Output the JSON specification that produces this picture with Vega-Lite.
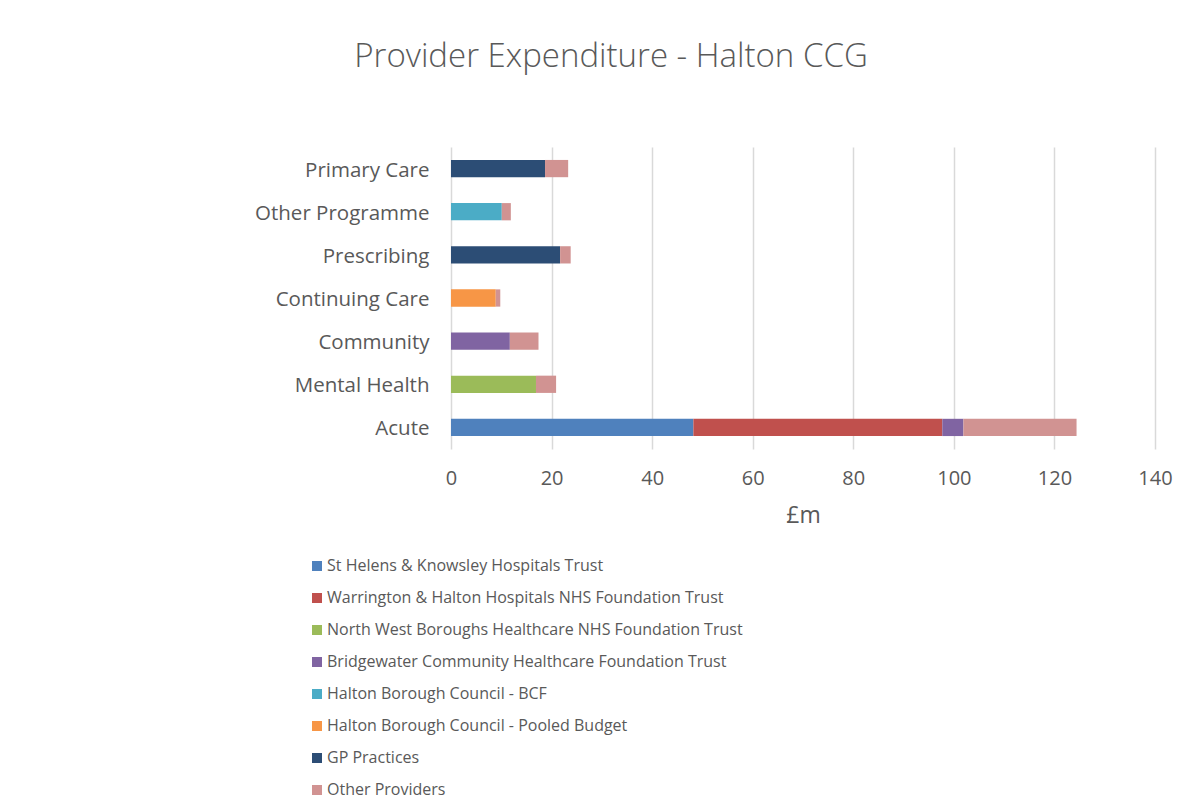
{
  "$schema": "https://vega.github.io/schema/vega-lite/v6.json",
  "width": 704,
  "height": 302,
  "autosize": {"type": "none"},
  "padding": {"left": 451, "top": 147, "right": 48, "bottom": 351},
  "background": "white",
  "title": {
    "text": "Provider Expenditure - Halton CCG",
    "fontSize": 33,
    "font": "Open Sans",
    "fontWeight": 300,
    "color": "#595959",
    "anchor": "middle",
    "dx": -192,
    "offset": 73
  },
  "data": {
    "values": [
      {"category": "Primary Care", "provider": "GP Practices", "k": 7, "value": 18.7},
      {"category": "Primary Care", "provider": "Other Providers", "k": 8, "value": 4.6},
      {"category": "Other Programme", "provider": "Halton Borough Council - BCF", "k": 5, "value": 10.1},
      {"category": "Other Programme", "provider": "Other Providers", "k": 8, "value": 1.8},
      {"category": "Prescribing", "provider": "GP Practices", "k": 7, "value": 21.7},
      {"category": "Prescribing", "provider": "Other Providers", "k": 8, "value": 2.1},
      {"category": "Continuing Care", "provider": "Halton Borough Council - Pooled Budget", "k": 6, "value": 8.9},
      {"category": "Continuing Care", "provider": "Other Providers", "k": 8, "value": 0.9},
      {"category": "Community", "provider": "Bridgewater Community Healthcare Foundation Trust", "k": 4, "value": 11.7},
      {"category": "Community", "provider": "Other Providers", "k": 8, "value": 5.7},
      {"category": "Mental Health", "provider": "North West Boroughs Healthcare NHS Foundation Trust", "k": 3, "value": 16.9},
      {"category": "Mental Health", "provider": "Other Providers", "k": 8, "value": 4.0},
      {"category": "Acute", "provider": "St Helens & Knowsley Hospitals Trust", "k": 1, "value": 48.2},
      {"category": "Acute", "provider": "Warrington & Halton Hospitals NHS Foundation Trust", "k": 2, "value": 49.5},
      {"category": "Acute", "provider": "Bridgewater Community Healthcare Foundation Trust", "k": 4, "value": 4.2},
      {"category": "Acute", "provider": "Other Providers", "k": 8, "value": 22.5}
    ]
  },
  "mark": {"type": "bar"},
  "encoding": {
    "y": {
      "field": "category",
      "type": "nominal",
      "sort": ["Primary Care", "Other Programme", "Prescribing", "Continuing Care", "Community", "Mental Health", "Acute"],
      "scale": {"paddingInner": 0.6, "paddingOuter": 0.3},
      "axis": {
        "title": null,
        "domain": false,
        "ticks": false,
        "labelFontSize": 20.5,
        "labelFont": "Open Sans",
        "labelColor": "#595959",
        "labelPadding": 22,
        "labelOffset": 2
      }
    },
    "x": {
      "field": "value",
      "type": "quantitative",
      "stack": "zero",
      "scale": {"domain": [0, 140], "nice": false},
      "axis": {
        "title": "£m",
        "values": [0, 20, 40, 60, 80, 100, 120, 140],
        "domain": false,
        "ticks": false,
        "grid": true,
        "gridColor": "#D9D9D9",
        "gridWidth": 1.5,
        "labelFlush": false,
        "labelFontSize": 20,
        "labelFont": "Open Sans",
        "labelColor": "#595959",
        "labelPadding": 19,
        "titleFontSize": 23,
        "titleFont": "Open Sans",
        "titleFontWeight": "normal",
        "titleColor": "#595959",
        "titlePadding": 16
      }
    },
    "order": {"field": "k", "type": "quantitative"},
    "color": {
      "field": "provider",
      "type": "nominal",
      "scale": {
        "domain": ["St Helens & Knowsley Hospitals Trust", "Warrington & Halton Hospitals NHS Foundation Trust", "North West Boroughs Healthcare NHS Foundation Trust", "Bridgewater Community Healthcare Foundation Trust", "Halton Borough Council - BCF", "Halton Borough Council - Pooled Budget", "GP Practices", "Other Providers"],
        "range": ["#4F81BD", "#C0504D", "#9BBB59", "#8064A2", "#4BACC6", "#F79646", "#2C4D75", "#D19392"]
      },
      "legend": {
        "title": null,
        "orient": "none",
        "legendX": -142,
        "legendY": 411,
        "padding": 0,
        "symbolType": "square",
        "symbolSize": 100,
        "symbolStrokeWidth": 0,
        "labelFontSize": 16,
        "labelFont": "Open Sans",
        "labelColor": "#595959",
        "labelOffset": 2,
        "rowPadding": 16,
        "labelLimit": 600
      }
    }
  },
  "config": {"view": {"stroke": null}}
}
